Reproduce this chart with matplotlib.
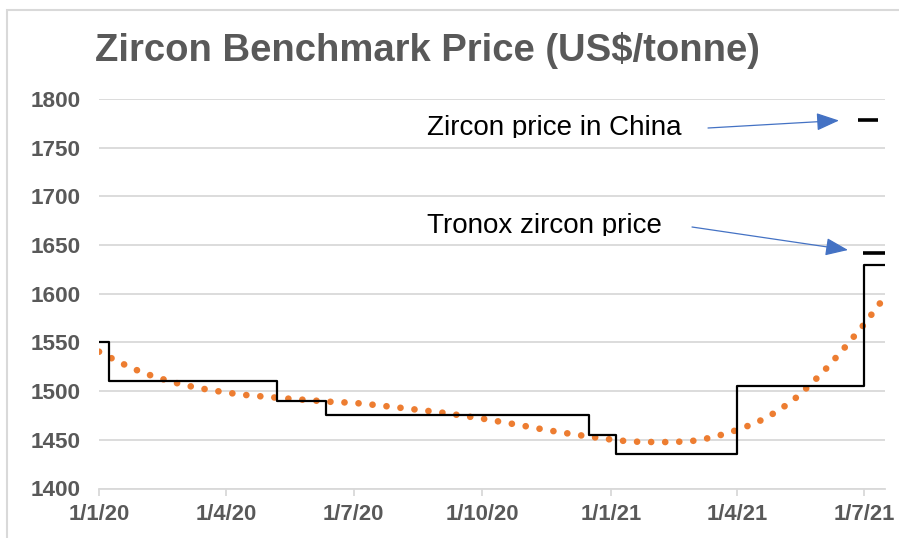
import matplotlib
matplotlib.use("Agg")
import matplotlib.pyplot as plt
from matplotlib.patches import Rectangle, FancyArrowPatch
from matplotlib.transforms import Bbox
from datetime import datetime

# ---------------- data ----------------
title = "Zircon Benchmark Price (US$/tonne)"

step_dates = ["2020-01-01", "2020-01-08", "2020-05-07", "2020-06-11",
              "2020-12-16", "2021-01-05", "2021-04-01", "2021-07-01", "2021-07-16"]
step_values = [1550, 1510, 1490, 1475, 1455, 1435, 1505, 1630, 1630]

trend_dates = ["2020-01-01", "2020-01-15", "2020-02-01", "2020-02-15", "2020-03-01",
               "2020-03-15", "2020-04-01", "2020-04-15", "2020-05-01", "2020-05-15",
               "2020-06-01", "2020-06-15", "2020-07-01", "2020-07-15", "2020-08-01",
               "2020-08-15", "2020-09-01", "2020-09-15", "2020-10-01", "2020-10-15",
               "2020-11-01", "2020-11-15", "2020-12-01", "2020-12-15", "2021-01-01",
               "2021-01-15", "2021-02-01", "2021-02-15", "2021-03-01", "2021-03-15",
               "2021-04-01", "2021-04-15", "2021-05-01", "2021-05-15", "2021-06-01",
               "2021-06-15", "2021-07-01", "2021-07-16"]
trend_values = [1540.5, 1530, 1519, 1512.5, 1506.5, 1502.5, 1498.5, 1496, 1494, 1492.3,
                1490.5, 1489, 1488, 1486, 1483.3, 1481, 1478.2, 1475.2, 1471.8, 1468.3,
                1464, 1460.3, 1456.6, 1453.6, 1450.3, 1448.2, 1447.7, 1447.7, 1449, 1452.5,
                1460, 1467.5, 1480, 1495, 1518.5, 1541, 1568.5, 1597]

china_date, china_price = "2021-07-04", 1778
tronox_date, tronox_price = "2021-07-08", 1642

xtick_dates = ["2020-01-01", "2020-04-01", "2020-07-01", "2020-10-01",
               "2021-01-01", "2021-04-01", "2021-07-01"]
xtick_labels = ["1/1/20", "1/4/20", "1/7/20", "1/10/20", "1/1/21", "1/4/21", "1/7/21"]
yticks = [1400, 1450, 1500, 1550, 1600, 1650, 1700, 1750, 1800]

label_china = "Zircon price in China"
label_tronox = "Tronox zircon price"

# ---------------- figure ----------------
W, H = 899, 538
fig = plt.figure(figsize=(W / 100, H / 100), dpi=100)
plt.rcParams['font.family'] = ['Liberation Sans', 'DejaVu Sans']

def fx(px):
    return px / W

def fy(py):
    return 1 - py / H

grid_c = "#d9d9d9"
text_c = "#595959"

# chart area border
fig.patches.append(Rectangle((fx(7), -0.2), 1.2, fy(10) + 0.2, transform=fig.transFigure,
                             facecolor="none", edgecolor=grid_c, lw=1.5, zorder=0))

ax = fig.add_axes([fx(99), fy(488.5), fx(885) - fx(99), fy(99) - fy(488.5)])

to_d = lambda s: datetime.strptime(s, "%Y-%m-%d")
sd = [to_d(d) for d in step_dates]
td = [to_d(d) for d in trend_dates]

ax.plot(td, trend_values, color="#ED7D31", lw=4.8, linestyle=(0, (0.01, 2.1)),
        dash_capstyle="round", zorder=3)
ax.step(sd, step_values, where="post", color="black", lw=1.6, zorder=4)

ax.plot([to_d(china_date)], [china_price], marker="_", ms=14.5, mew=2.6,
        color="black", zorder=5)
ax.plot([to_d(tronox_date)], [tronox_price], marker="_", ms=15.5, mew=2.6,
        color="black", zorder=5)

ax.set_xlim(to_d("2020-01-01"), to_d("2021-07-16"))
ax.set_ylim(1400, 1800)
ax.set_yticks(yticks)
ax.set_xticks([to_d(d) for d in xtick_dates])
ax.set_xticklabels(xtick_labels)

ax.grid(axis="y", color=grid_c, lw=1.3, zorder=0)
ax.set_axisbelow(True)
for s in ["top", "right", "left"]:
    ax.spines[s].set_visible(False)
ax.spines["bottom"].set_color(grid_c)
ax.spines["bottom"].set_linewidth(1.3)
ax.tick_params(axis="y", length=0, pad=13.5, labelsize=16.2, labelcolor=text_c)
ax.tick_params(axis="x", length=5, width=1.3, color=grid_c, pad=6,
               labelsize=15.8, labelcolor=text_c)
for lab in ax.get_xticklabels() + ax.get_yticklabels():
    lab.set_fontweight("bold")

# title
fig.text(fx(427.5), fy(61), title, ha="center", va="baseline", fontsize=27.5,
         fontweight="bold", color=text_c)

# annotation boxes (white, covering gridlines)
fig.patches.append(Rectangle((fx(407), fy(146.5)), fx(697) - fx(407), fy(101) - fy(146.5),
                             transform=fig.transFigure, facecolor="white",
                             edgecolor="none", zorder=2))
fig.patches.append(Rectangle((fx(407), fy(243.5)), fx(675) - fx(407), fy(199) - fy(243.5),
                             transform=fig.transFigure, facecolor="white",
                             edgecolor="none", zorder=2))

t1 = fig.text(fx(427), fy(135), label_china, ha="left", va="baseline", fontsize=20,
              color="black", zorder=6)
t2 = fig.text(fx(427), fy(233), label_tronox, ha="left", va="baseline", fontsize=20,
              color="black", zorder=6)
t1.set_clip_box(Bbox.from_extents(407, H - 137.5, 697, H - 101))
t1.set_clip_on(True)
t2.set_clip_box(Bbox.from_extents(407, H - 235.5, 675, H - 199))
t2.set_clip_on(True)

arrow_c = "#4472C4"
for (x0, y0), (x1, y1) in [((708, 128), (839, 120.5)), ((692, 227), (848, 250))]:
    fig.add_artist(FancyArrowPatch(
        (fx(x0), fy(y0)), (fx(x1), fy(y1)), transform=fig.transFigure,
        arrowstyle="-|>,head_length=1.4,head_width=0.55", mutation_scale=10,
        color=arrow_c, lw=0.9, shrinkA=0, shrinkB=0, zorder=7))

fig.savefig("out.png", dpi=100)
